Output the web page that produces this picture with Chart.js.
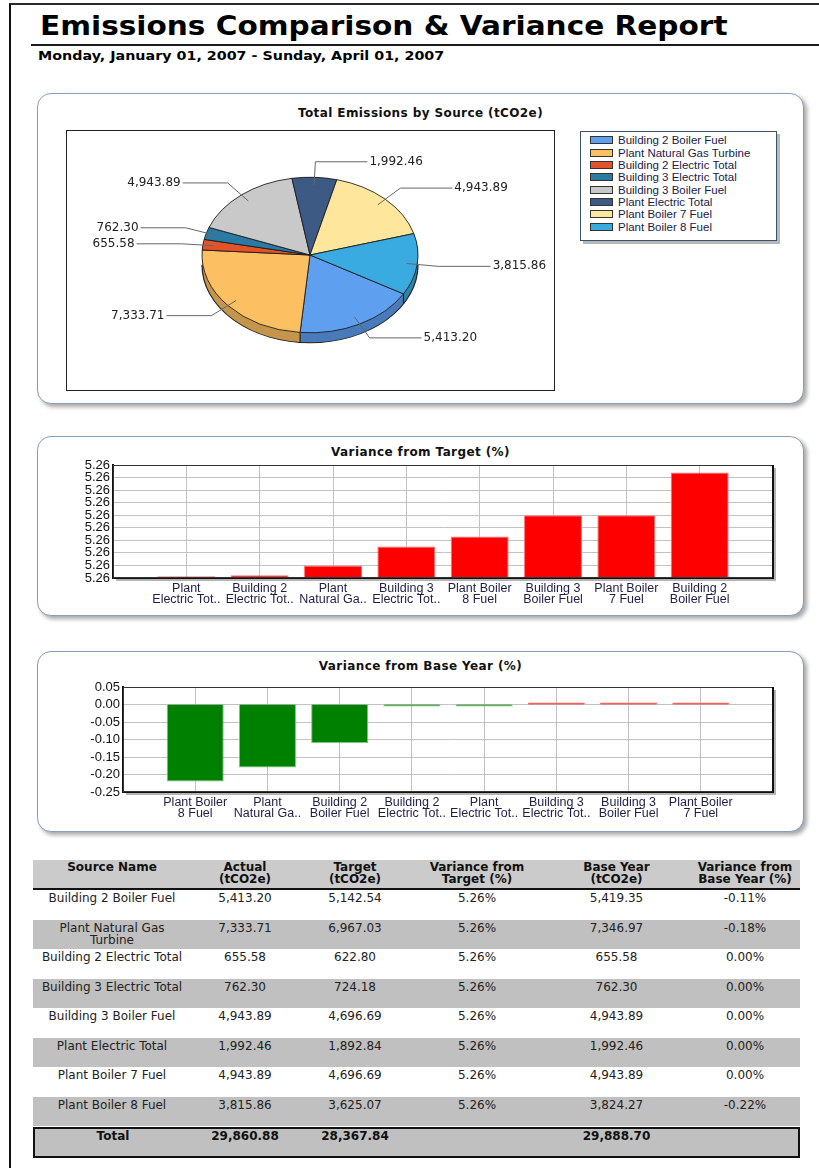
<!DOCTYPE html>
<html>
<head>
<meta charset="utf-8">
<title>Emissions Comparison &amp; Variance Report</title>
<script src="https://cdn.jsdelivr.net/npm/chart.js@4.4.1/dist/chart.umd.min.js"></script>
<style>
  html, body { margin: 0; padding: 0; background: #fff; }
  body { position: relative; width: 819px; height: 1168px; overflow: hidden; font-family: 'DejaVu Sans', Verdana, sans-serif; color: #111; }
  #marco { position: absolute; left: 9px; top: 3px; right: 0; bottom: 0; border-left: 2px solid #111; border-top: 2px solid #2a2a2a; }
  #titulo { position: absolute; left: 40px; top: 13px; font: bold 26px 'DejaVu Sans'; line-height: 26px; white-space: nowrap; transform-origin: 0 0; color: #000; }
  #linea { position: absolute; left: 31px; right: 0; top: 44px; height: 2px; background: #1a1a1a; }
  #fechas { position: absolute; left: 38px; top: 49px; font: bold 12px 'DejaVu Sans'; line-height: 14px; white-space: nowrap; transform-origin: 0 0; color: #000; }
  .panel { position: absolute; left: 37px; width: 765px; border: 1px solid #8a9dbb; border-radius: 14px; box-shadow: 3px 3px 4px rgba(0,0,0,.35); background: #fff; }
  .tit-panel { position: absolute; left: 37px; width: 767px; text-align: center; font: bold 12px 'DejaVu Sans'; letter-spacing: 0.4px; line-height: 14px; color: #111; }
  #cajaPastel { position: absolute; left: 66px; top: 130px; width: 489px; height: 261px; box-sizing: border-box; border: 1px solid #222; background: #fff; }
  #cajaPastel canvas { display: block; }
  #leyenda { position: absolute; left: 580px; top: 131px; width: 197px; height: 110px; box-sizing: border-box; border: 1px solid #3d4f6e; box-shadow: 3px 3px 0 #b8b8b8; background: #fff; padding-top: 2px; }
  .fila-leyenda { height: 12.37px; display: flex; align-items: center; font: 11.5px 'Liberation Sans', Arial, sans-serif; color: #1a1a48; white-space: nowrap; }
  .fila-leyenda .caja { display: inline-block; width: 23px; height: 8px; border: 1px solid #333; margin-left: 9px; margin-right: 5px; box-sizing: border-box; }
  canvas.barras { position: absolute; }
  #tabla { position: absolute; left: 33px; top: 860px; width: 767px; border-collapse: separate; border-spacing: 0; table-layout: fixed; font: 12px 'DejaVu Sans'; color: #222; }
  #tabla th { background: #cbcbcb; font-weight: bold; height: 27px; vertical-align: top; padding: 1px 2px 0; line-height: 12px; border-bottom: 2px solid #111; color: #111; }
  #tabla td { height: 27.5px; vertical-align: top; text-align: center; padding: 2px 2px 0; line-height: 12px; }
  #tabla td:first-child { padding: 2px 5px 0; }
  #tabla tr.gris td { background: #c0c0c0; }
  #tabla tr.separa td { height: 1px; padding: 0; }
  #tabla tr.total td { background: #c0c0c0; font-weight: bold; border-top: 2px solid #111; border-bottom: 2px solid #111; height: 26px; padding-top: 1px; color: #111; }
  #tabla tr.total td:first-child { border-left: 2px solid #111; }
  #tabla tr.total td:last-child { border-right: 2px solid #111; }
</style>
</head>
<body>
<div id="marco"></div>
<div id="titulo">Emissions Comparison &amp; Variance Report</div>
<div id="linea"></div>
<div id="fechas">Monday, January 01, 2007 - Sunday, April 01, 2007</div>

<div class="panel" style="top:93px;height:309px;"></div>
<div class="tit-panel" style="top:106px;">Total Emissions by Source (tCO2e)</div>
<div id="cajaPastel"><canvas id="pastel" width="487" height="259"></canvas></div>
<div id="leyenda"></div>

<div class="panel" style="top:436px;height:178px;"></div>
<div class="tit-panel" style="top:445px;">Variance from Target (%)</div>
<canvas id="objetivo" class="barras" width="760" height="155" style="left:40px;top:455px;"></canvas>

<div class="panel" style="top:651px;height:179px;"></div>
<div class="tit-panel" style="top:659px;">Variance from Base Year (%)</div>
<canvas id="base" class="barras" width="760" height="155" style="left:40px;top:672px;"></canvas>

<table id="tabla">
  <colgroup>
    <col style="width:158px"><col style="width:108px"><col style="width:112px"><col style="width:132px"><col style="width:147px"><col style="width:110px">
  </colgroup>
  <thead><tr id="encabezado"></tr></thead>
  <tbody id="cuerpo"></tbody>
</table>

<script>
// Datos del gráfico de pastel (orden de la leyenda)
const fuentes = ['Building 2 Boiler Fuel', 'Plant Natural Gas Turbine', 'Building 2 Electric Total', 'Building 3 Electric Total',
                 'Building 3 Boiler Fuel', 'Plant Electric Total', 'Plant Boiler 7 Fuel', 'Plant Boiler 8 Fuel'];
const emisiones = [5413.20, 7333.71, 655.58, 762.30, 4943.89, 1992.46, 4943.89, 3815.86];
const coloresFuente = ['#5f9ff0', '#fcc062', '#e2532a', '#2a7aa6', '#c9c9c9', '#3c5a84', '#fee79c', '#3aabe0'];

// Variación respecto al objetivo (%), ordenado como en el gráfico
const objetivoEtiquetas = [['Plant', 'Electric Tot..'], ['Building 2', 'Electric Tot..'], ['Plant', 'Natural Ga..'], ['Building 3', 'Electric Tot..'],
                           ['Plant Boiler', '8 Fuel'], ['Building 3', 'Boiler Fuel'], ['Plant Boiler', '7 Fuel'], ['Building 2', 'Boiler Fuel']];
const objetivoValores = [5.263013, 5.263021, 5.26310, 5.26325, 5.26333, 5.26350, 5.26350, 5.26384];
const objetivoEje = [5.2630, 5.2639, 0.0001];   // min, max, paso

// Variación respecto al año base (%)
const baseEtiquetas = [['Plant Boiler', '8 Fuel'], ['Plant', 'Natural Ga..'], ['Building 2', 'Boiler Fuel'], ['Building 2', 'Electric Tot..'],
                       ['Plant', 'Electric Tot..'], ['Building 3', 'Electric Tot..'], ['Building 3', 'Boiler Fuel'], ['Plant Boiler', '7 Fuel']];
const baseValores = [-0.22, -0.18, -0.11, -0.001, -0.001, 0.001, 0.001, 0.001];
const baseEje = [-0.25, 0.05, 0.05];

// Tabla
const encabezados = ['Source Name', 'Actual<br>(tCO2e)', 'Target<br>(tCO2e)', 'Variance from<br>Target (%)', 'Base Year<br>(tCO2e)', 'Variance from<br>Base Year (%)'];
const objetivoTabla = [5142.54, 6967.03, 622.80, 724.18, 4696.69, 1892.84, 4696.69, 3625.07];
const varObjetivoTabla = [5.26, 5.26, 5.26, 5.26, 5.26, 5.26, 5.26, 5.26];
const anioBaseTabla = [5419.35, 7346.97, 655.58, 762.30, 4943.89, 1992.46, 4943.89, 3824.27];
const varBaseTabla = [-0.11, -0.18, 0.00, 0.00, 0.00, 0.00, 0.00, -0.22];
const totalActual = 29860.88;
const totalObjetivo = 28367.84;
const totalBase = 29888.70;

const fmt = v => v.toLocaleString('en-US', { minimumFractionDigits: 2, maximumFractionDigits: 2 });

function oscurecer(hex, f) {
    const n = parseInt(hex.slice(1), 16);
    return `rgb(${Math.round(((n >> 16) & 255) * f)},${Math.round(((n >> 8) & 255) * f)},${Math.round((n & 255) * f)})`;
}

// Ajusta el ancho de un texto al del original
function ajustarAncho(id, ancho) {
    const el = document.getElementById(id);
    el.style.transform = `scaleX(${ancho / el.offsetWidth})`;
}
ajustarAncho('titulo', 688);
ajustarAncho('fechas', 406);

Chart.defaults.font.family = "'Liberation Sans', Arial, sans-serif";
Chart.defaults.animation = false;

// Pastel inclinado con borde lateral y etiquetas con líneas guía
const pastel3d = {
    id: 'pastel3d',
    beforeDatasetsDraw(chart, args, opts) {
        const arcos = chart.getDatasetMeta(0).data;
        const { x, y, outerRadius: r } = arcos[0];
        const t = opts.inclinacion;
        const prof = opts.profundidad / t;
        const ctx = chart.ctx;
        ctx.save();
        ctx.translate(x, y); ctx.scale(1, t); ctx.translate(-x, -y);
        for (let d = prof; d > 0; d -= 0.5) {
            arcos.forEach((a, i) => {
                ctx.beginPath();
                ctx.moveTo(x, y + d);
                ctx.arc(x, y + d, a.outerRadius, a.startAngle, a.endAngle);
                ctx.closePath();
                ctx.fillStyle = oscurecer(coloresFuente[i], 0.78);
                ctx.fill();
            });
        }
        ctx.strokeStyle = '#222';
        ctx.lineWidth = 1.2;
        ctx.beginPath();
        ctx.arc(x, y + prof, r, 0, Math.PI);
        ctx.stroke();
        arcos.forEach(a => {
            const ang = ((a.startAngle % (2 * Math.PI)) + 2 * Math.PI) % (2 * Math.PI);
            if (ang > 0 && ang < Math.PI) {
                const px = x + Math.cos(ang) * r, py = y + Math.sin(ang) * r;
                ctx.beginPath(); ctx.moveTo(px, py); ctx.lineTo(px, py + prof); ctx.stroke();
            }
        });
    },
    afterDatasetsDraw(chart, args, opts) {
        const ctx = chart.ctx;
        ctx.restore();
        const arcos = chart.getDatasetMeta(0).data;
        const { x, y, outerRadius: r } = arcos[0];
        const t = opts.inclinacion;
        const etiquetas = arcos.map((a, i) => {
            const m = (a.startAngle + a.endAngle) / 2;
            const c = Math.cos(m), s = Math.sin(m);
            return { der: c >= 0, ax: x + c * r * 0.9, ay: y + s * r * 0.9 * t, ex: x + c * r * 1.2, ey: y + s * r * 1.2 * t, texto: fmt(emisiones[i]) };
        });
        [true, false].forEach(lado => {
            const grupo = etiquetas.filter(e => e.der === lado).sort((p, q) => p.ey - q.ey);
            for (let k = 0; k < 6; k++) {
                for (let j = 1; j < grupo.length; j++) {
                    const hueco = grupo[j].ey - grupo[j - 1].ey;
                    if (hueco < 16) {
                        const d = (16 - hueco) / 2;
                        grupo[j].ey += d; grupo[j - 1].ey -= d;
                    }
                }
            }
        });
        ctx.save();
        ctx.strokeStyle = '#666';
        ctx.lineWidth = 1;
        ctx.font = "12px 'DejaVu Sans'";
        ctx.fillStyle = '#222';
        ctx.textBaseline = 'middle';
        etiquetas.forEach(e => {
            const fx = e.ex + (e.der ? 52 : -45);
            ctx.beginPath();
            ctx.moveTo(e.ax, e.ay); ctx.lineTo(e.ex, e.ey); ctx.lineTo(fx, e.ey);
            ctx.stroke();
            ctx.textAlign = e.der ? 'left' : 'right';
            ctx.fillText(e.texto, fx + (e.der ? 2 : -2), e.ey);
        });
        ctx.restore();
    }
};

// Leyenda en HTML generada por la librería
const leyendaHtml = {
    id: 'leyendaHtml',
    afterUpdate(chart) {
        const cont = document.getElementById('leyenda');
        cont.innerHTML = '';
        chart.options.plugins.legend.labels.generateLabels(chart).forEach(it => {
            const fila = document.createElement('div');
            fila.className = 'fila-leyenda';
            const caja = document.createElement('span');
            caja.className = 'caja';
            caja.style.background = it.fillStyle;
            const txt = document.createElement('span');
            txt.textContent = it.text;
            fila.append(caja, txt);
            cont.appendChild(fila);
        });
    }
};

new Chart(document.getElementById('pastel'), {
    type: 'pie',
    data: {
        labels: fuentes,
        datasets: [{
            data: emisiones,
            backgroundColor: coloresFuente,
            borderColor: '#1a1a1a',
            borderWidth: 1,
            radius: 108
        }]
    },
    options: {
        responsive: false,
        rotation: 120,
        layout: { padding: { left: 0, right: 1, top: 0, bottom: 11 } },
        plugins: {
            legend: { display: false },
            tooltip: { enabled: false },
            pastel3d: { inclinacion: 0.72, profundidad: 10 }
        }
    },
    plugins: [pastel3d, leyendaHtml]
});

// Marco del área de trazado con sombra
const marcoGrafico = {
    id: 'marcoGrafico',
    beforeDraw(chart) {
        const { ctx, chartArea: a } = chart;
        ctx.save();
        ctx.fillStyle = '#b4b4b4';
        ctx.fillRect(a.left + 3, a.top + 3, a.right - a.left, a.bottom - a.top);
        ctx.fillStyle = '#fff';
        ctx.fillRect(a.left, a.top, a.right - a.left, a.bottom - a.top);
        ctx.restore();
    },
    afterDraw(chart) {
        const { ctx, chartArea: a } = chart;
        ctx.save();
        ctx.strokeStyle = '#333';
        ctx.lineWidth = 1;
        ctx.strokeRect(a.left + 0.5, a.top + 0.5, a.right - a.left - 1, a.bottom - a.top - 1);
        ctx.fillStyle = '#111';
        ctx.fillRect(a.right - 1, a.top, 2, a.bottom - a.top + 1);
        ctx.restore();
    }
};

function graficoBarras(id, etiquetas, valores, eje, anchoEje, altoEje, relleno) {
    return new Chart(document.getElementById(id), {
        type: 'bar',
        data: {
            labels: ['', ...etiquetas, ''],
            datasets: [{
                data: [null, ...valores, null],
                backgroundColor: c => c.raw < 0 ? '#008000' : '#ff0000',
                borderColor: c => c.raw < 0 ? '#78c878' : '#ff7272',
                borderWidth: 1,
                minBarLength: 2,
                categoryPercentage: 1,
                barPercentage: 0.79
            }]
        },
        options: {
            responsive: false,
            layout: { padding: relleno },
            plugins: { legend: { display: false }, tooltip: { enabled: false } },
            scales: {
                x: {
                    offset: false,
                    grid: { offset: false, color: '#c2c2c2', drawTicks: false },
                    border: { color: '#111', width: 2 },
                    ticks: { autoSkip: false, maxRotation: 0, padding: 5, color: '#1e1e46', font: { size: 12.5, lineHeight: 0.9 } },
                    afterFit(s) { s.height = altoEje; s.paddingLeft = 0; s.paddingRight = 0; }
                },
                y: {
                    min: eje[0],
                    max: eje[1],
                    grid: { color: '#c2c2c2', drawTicks: false },
                    border: { color: '#111', width: 2 },
                    ticks: {
                        stepSize: eje[2],
                        autoSkip: false,
                        padding: 3,
                        color: '#111',
                        font: { size: 13, lineHeight: 1 },
                        callback: v => (Math.abs(v) < 1e-9 ? 0 : v).toFixed(2)
                    },
                    afterFit(s) { s.width = anchoEje; s.paddingTop = 0; s.paddingBottom = 0; }
                }
            }
        },
        plugins: [marcoGrafico]
    });
}

graficoBarras('objetivo', objetivoEtiquetas, objetivoValores, objetivoEje, 73, 32, { left: 0, right: 27, top: 10, bottom: 0 });
graficoBarras('base', baseEtiquetas, baseValores, baseEje, 83, 35, { left: 0, right: 27, top: 15, bottom: 0 });

// Tabla de datos
document.getElementById('encabezado').innerHTML = encabezados.map(h => `<th>${h}</th>`).join('');
const pct = v => (Math.abs(v) < 1e-9 ? 0 : v).toFixed(2) + '%';
document.getElementById('cuerpo').innerHTML = fuentes.map((f, i) => `
    <tr class="${i % 2 ? 'gris' : ''}">
      <td>${f}</td><td>${fmt(emisiones[i])}</td><td>${fmt(objetivoTabla[i])}</td>
      <td>${pct(varObjetivoTabla[i])}</td><td>${fmt(anioBaseTabla[i])}</td><td>${pct(varBaseTabla[i])}</td>
    </tr>`).join('') + `
    <tr class="separa"><td colspan="6"></td></tr>
    <tr class="total"><td>Total</td><td>${fmt(totalActual)}</td><td>${fmt(totalObjetivo)}</td><td></td><td>${fmt(totalBase)}</td><td></td></tr>`;
</script>
</body>
</html>
